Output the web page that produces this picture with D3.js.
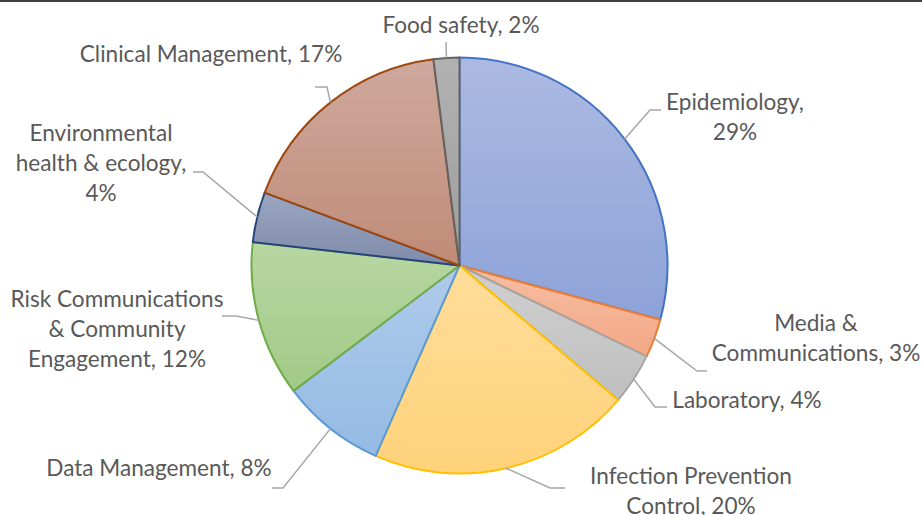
<!DOCTYPE html>
<html>
<head>
<meta charset="utf-8">
<script src="https://cdn.jsdelivr.net/npm/d3@7"></script>
<style>
  body { margin: 0; background: #fff; }
  svg { display: block; }
  text { font-family: Lato, "Open Sans", sans-serif; fill: #595959; }
</style>
</head>
<body>
<div id="chart-area"></div>
<script>
// data (clockwise from 12 o'clock)
var categories = ['Epidemiology', 'Media & Communications', 'Laboratory', 'Infection Prevention Control',
  'Data Management', 'Risk Communications & Community Engagement', 'Environmental health & ecology',
  'Clinical Management', 'Food safety']
var shares = [29.2, 3.0, 4.0, 20.4, 8.1, 12.1, 3.9, 17.3, 2.0]

// label text lines (name part; percentage is appended from the data)
var labelLines = [
  ['Epidemiology,', '{p}'],
  ['Media &', 'Communications, {p}'],
  ['Laboratory, {p}'],
  ['Infection Prevention', 'Control, {p}'],
  ['Data Management, {p}'],
  ['Risk Communications', '& Community', 'Engagement, {p}'],
  ['Environmental', 'health & ecology,', '{p}'],
  ['Clinical Management, {p}'],
  ['Food safety, {p}']
]

var strokeColors = ['#4472c4', '#ed7d31', '#a5a5a5', '#ffc000', '#5b9bd5', '#70ad47', '#264478', '#9e480e', '#636363']
var topColors = ['#acbae2', '#f6bda3', '#d0d0d0', '#ffdd9a', '#b0cbeb', '#b7d7a2', '#9ba6c1', '#cea99e', '#b2b2b2']
var bottomColors = ['#8da2d9', '#f3a886', '#bfbfbf', '#ffd27a', '#94bae4', '#a2c987', '#7e8baa', '#c08b77', '#9d9d9d']

var width = 922, height = 515
var cx = 459.5, cy = 265.5, radius = 208

var svg = d3.select('#chart-area').append('svg')
  .attr('width', width)
  .attr('height', height)

// thin dark rule along the top edge
svg.append('rect')
  .attr('x', 0).attr('y', 0)
  .attr('width', width).attr('height', 2)
  .attr('fill', '#3f3f3f')

// gradients per slice
var defs = svg.append('defs')
categories.forEach(function(c, i){
  var g = defs.append('linearGradient')
    .attr('id', 'grad' + i)
    .attr('x1', 0).attr('y1', 0).attr('x2', 0).attr('y2', 1)
  g.append('stop').attr('offset', '0%').attr('stop-color', topColors[i])
  g.append('stop').attr('offset', '100%').attr('stop-color', bottomColors[i])
})

var data = categories.map(function(c, i){ return {name: c, value: shares[i], idx: i} })

var pie = d3.pie()
  .value(function(d){ return d.value })
  .sort(null)

var arc = d3.arc().innerRadius(0).outerRadius(radius)

var arcs = pie(data)

var group = svg.append('g')
  .attr('transform', 'translate(' + cx + ',' + cy + ')')

group.selectAll('path.slice')
  .data(arcs)
  .enter()
  .append('path')
  .attr('class', 'slice')
  .attr('d', arc)
  .attr('fill', function(d){ return 'url(#grad' + d.data.idx + ')' })
  .attr('stroke', function(d){ return strokeColors[d.data.idx] })
  .attr('stroke-width', 2)
  .attr('stroke-linejoin', 'round')

// label layout: text anchor point (centre x, first baseline) and leader elbow / end
var labelLayout = [
  {x: 735, y: 110, elbow: [650, 110], end: [661, 110]},
  {x: 816, y: 331, elbow: [697, 371], end: [707, 371]},
  {x: 747, y: 408, elbow: [655, 407], end: [667, 407]},
  {x: 691, y: 484, elbow: [550, 488], end: [565, 488]},
  {x: 159, y: 476, elbow: [283, 488], end: [272, 488]},
  {x: 117, y: 307, elbow: [236, 316], end: [222, 316]},
  {x: 101, y: 141, elbow: [203, 172], end: [193, 172]},
  {x: 211, y: 62,  elbow: [327, 87],  end: [315, 87]},
  {x: 461, y: 33,  elbow: [446, 42],  end: [446, 42]}
]
var lineHeight = 30
var pct = d3.format('.0f')

var leaders = svg.append('g')
arcs.forEach(function(a){
  var i = a.data.idx
  var mid = (a.startAngle + a.endAngle) / 2
  var sx = cx + radius * Math.sin(mid)
  var sy = cy - radius * Math.cos(mid)
  var L = labelLayout[i]
  leaders.append('polyline')
    .attr('points', [[sx, sy], L.elbow, L.end].map(function(p){ return p.join(',') }).join(' '))
    .attr('fill', 'none')
    .attr('stroke', '#a6a6a6')
    .attr('stroke-width', 1.5)
})

var labels = svg.append('g')
arcs.forEach(function(a){
  var i = a.data.idx
  var L = labelLayout[i]
  var t = labels.append('text')
    .attr('font-size', '22.6px')
    .attr('text-anchor', 'middle')
  labelLines[i].forEach(function(line, k){
    t.append('tspan')
      .attr('x', L.x)
      .attr('y', L.y + k * lineHeight)
      .text(line.replace('{p}', pct(a.data.value) + '%'))
  })
})
</script>
</body>
</html>
